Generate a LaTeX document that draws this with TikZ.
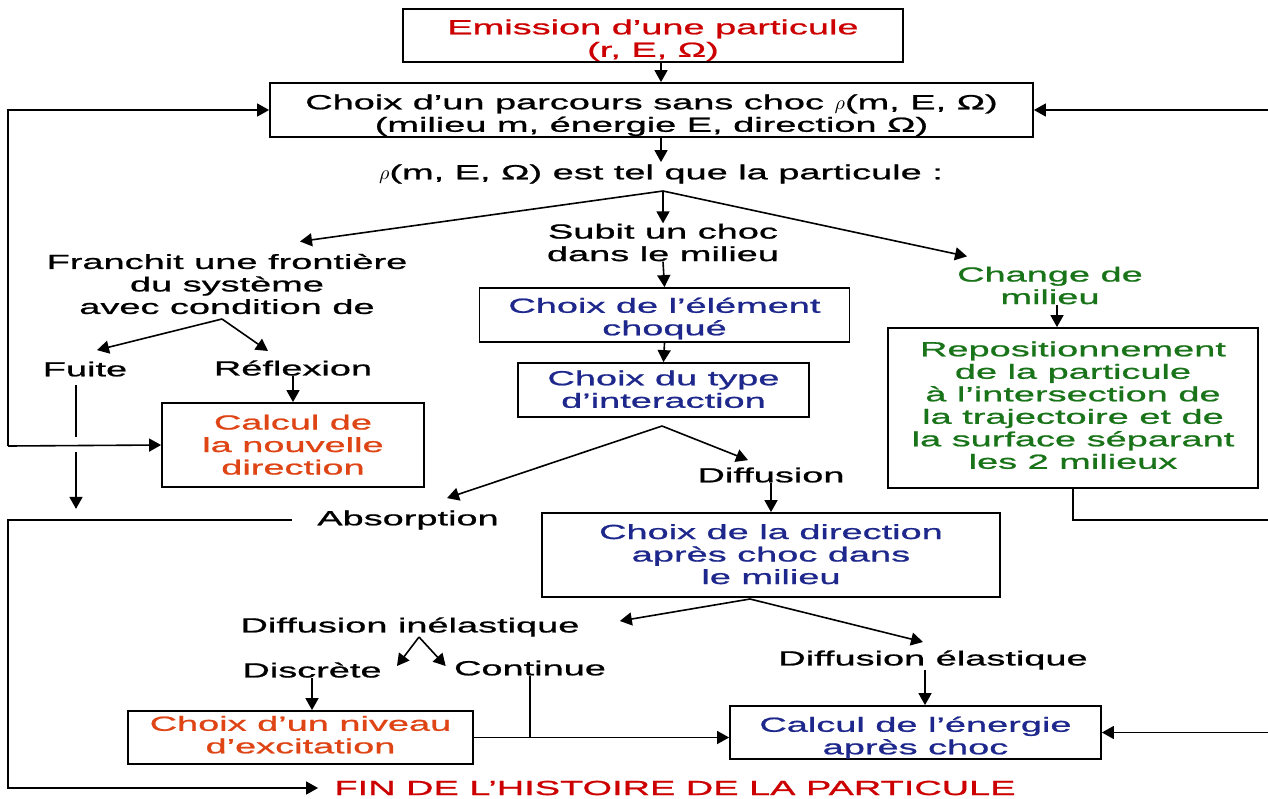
\documentclass[tikz,border=0pt]{standalone}
\usepackage{fontspec}
\setmainfont{Liberation Sans}[FakeStretch=1.86,FakeBold=1]
\usetikzlibrary{arrows.meta}

\definecolor{titlered}{RGB}{204,0,0}
\definecolor{calcorange}{RGB}{222,68,20}
\definecolor{choixblue}{RGB}{30,40,140}
\definecolor{milgreen}{RGB}{25,115,25}

% box text, lowered inside its frame
\newcommand{\lowtext}[2]{\raisebox{-#1}[\height][\depth]{\begin{tabular}{@{}c@{}}#2\end{tabular}}}

\begin{document}
\begin{tikzpicture}[
    x=0.5pt, y=-0.5pt,
    every node/.style={font=\fontsize{10.2}{11.25}\selectfont, align=center, inner sep=0pt},
    box/.style={draw, line width=0.9pt},
    edge/.style={draw, line width=0.8pt, -{Triangle[length=6pt,width=6.5pt]}},
    link/.style={draw, line width=0.8pt}
]
\useasboundingbox (0,0) rectangle (1268,798);

% boxes
\node[box, minimum width=250pt, minimum height=26.5pt, text=titlered] (emit) at (653,35.5)
    {\lowtext{2.75pt}{Emission d’une particule\\(r, E, Ω)}};
\node[box, minimum width=381.5pt, minimum height=27pt] (parc) at (651.5,110)
    {\lowtext{3pt}{Choix d’un parcours sans choc $\rho$(m, E, Ω)\\(milieu m, énergie E, direction Ω)}};
\node[box, minimum width=185pt, minimum height=27pt, text=choixblue] (elem) at (664.5,315)
    {\lowtext{2.25pt}{Choix de l’élément\\choqué}};
\node[box, minimum width=145.5pt, minimum height=27pt, text=choixblue] (typ) at (663.5,390)
    {\lowtext{1pt}{Choix du type\\d’interaction}};
\node[box, minimum width=185pt, minimum height=80pt, text=milgreen] (repos) at (1073,408)
    {\lowtext{0pt}{Repositionnement\\de la particule\\à l’intersection de\\la trajectoire et de\\la surface séparant\\les 2 milieux}};
\node[box, minimum width=131pt, minimum height=42pt, text=calcorange] (calc) at (293,445)
    {\lowtext{1.25pt}{Calcul de\\la nouvelle\\direction}};
\node[box, minimum width=229pt, minimum height=42pt, text=choixblue] (dir) at (771,555)
    {\lowtext{1pt}{Choix de la direction\\après choc dans\\le milieu}};
\node[box, minimum width=172.5pt, minimum height=26.5pt, text=calcorange] (niv) at (300.5,737.5)
    {\lowtext{0pt}{Choix d’un niveau\\d’excitation}};
\node[box, minimum width=185.5pt, minimum height=26.5pt, text=choixblue] (ener) at (915.5,732.5)
    {\lowtext{3pt}{Calcul de l’énergie\\après choc}};

% labels
\node (tel) at (661,174) {$\rho$(m, E, Ω) est tel que la particule :};
\node (subit) at (663,242.5) {Subit un choc\\dans le milieu};
\node (franchit) at (227,284) {Franchit une frontière\\du système\\avec condition de};
\node[text=milgreen] (change) at (1050,285.5) {Change de\\milieu};
\node (fuite) at (85,369) {Fuite};
\node (reflex) at (293,368) {Réflexion};
\node (diff) at (771,475) {Diffusion};
\node (absorb) at (408,520) {Absorption};
\node (inel) at (410,627) {Diffusion inélastique};
\node (elas) at (933,660) {Diffusion élastique};
\node (discr) at (312,670) {Discrète};
\node (cont) at (530,668) {Continue};
\node[text=titlered] (fin) at (675,788) {FIN DE L’HISTOIRE DE LA PARTICULE};

\coordinate (tsplit) at (663,191);
\coordinate (fsplit) at (222,319);
\coordinate (isplit) at (662,426);
\coordinate (dsplit) at (750,599);
\coordinate (nsplit) at (419,637);
\coordinate (wL) at (8,446);
\coordinate (wB) at (8,788);
\coordinate (eR1) at (1268,520);
\coordinate (eR2) at (1268,110);
\coordinate (eR3) at (1268,732.5);

% connectors
\draw[edge] (emit.south -| tel) -- (parc.north -| tel);
\draw[edge] (parc.south -| tel) -- ([yshift=1pt]tel.north);
\draw[edge] (tsplit) -- (subit.north);
\draw[edge] (tsplit) -- ([shift={(73,-12)}]franchit.north);
\draw[edge] (tsplit) -- ([shift={(-83,-10)}]change.north);
\draw[edge] (subit.south) -- (elem.north);
\draw[edge] (elem.south) -- (typ.north);
\draw[edge] (change.south -| 1057,0) -- (repos.north -| 1057,0);
\draw[edge] (fsplit) -- ([shift={(12,-11)}]fuite.north);
\draw[edge] (fsplit) -- ([shift={(-25,-9)}]reflex.north);
\draw[edge] (reflex.south) -- (calc.north);
\draw[link] ([shift={(-9,8)}]fuite.south) -- ++(0,52);
\draw[edge] ([shift={(-9,75)}]fuite.south) -- ++(0,57);
\draw[edge] (wL) |- (parc.west);
\draw[edge] (wL) -- (calc.west);
\draw[edge] (isplit) -- ([shift={(39,-12)}]absorb.north);
\draw[edge] (isplit) -- ([shift={(-23,-7)}]diff.north);
\draw[edge] (diff.south) -- (dir.north);
\draw[edge] ([xshift=-12.5pt]absorb.west) -| (wB) -- ([xshift=-8pt]fin.west);
\draw[edge] (dsplit) -- ([shift={(40,-6)}]inel.east);
\draw[edge] (dsplit) -- ([shift={(-10,-8)}]elas.north);
\draw[edge] ([xshift=-4pt]elas.south) -- ([xshift=-4pt]elas.south |- ener.north);
\draw[edge] (nsplit) -- ([shift={(15,-4)}]discr.east);
\draw[edge] (nsplit) -- ([shift={(-8,-2)}]cont.west);
\draw[edge] (discr.south) -- (discr.south |- niv.north);
\draw[link] (cont.south) -- (cont.south |- niv.east);
\draw[edge] (niv.east) -- (niv.east -| ener.west);
\draw[edge] (eR3) -- (ener.east);
\draw[link] (repos.south) |- (eR1);
\draw[edge] (eR2) -- (parc.east);
\end{tikzpicture}
\end{document}
